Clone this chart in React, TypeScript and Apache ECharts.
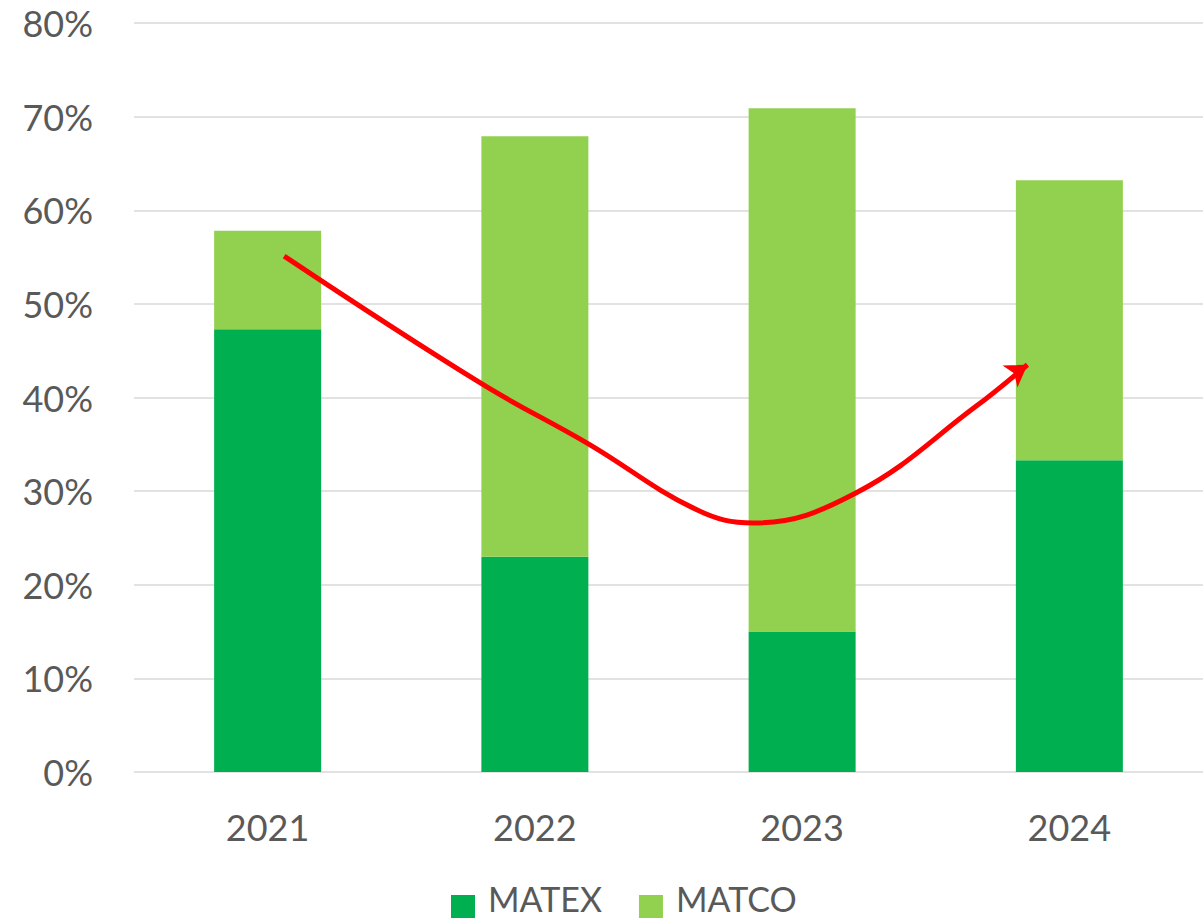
import React, { useEffect, useRef } from "react";
import * as echarts from "echarts";

const categories = ["2021", "2022", "2023", "2024"];
const matex = [47.3, 23.0, 15.0, 33.3];
const matco = [10.5, 44.9, 55.9, 29.9];
const yTicks = { min: 0, max: 80, interval: 10 };
// trend arrow path, in (category position, percent) coordinates
const trendX = [0.062, 0.799, 1.197, 1.606, 1.818, 2.201, 2.648, 2.843];
const trendY = [55.1, 41.5, 35.1, 28.0, 26.6, 29.8, 39.0, 43.5];

const FONT = "Lato";
const TEXT = "#595959";

export default function App() {
  const ref = useRef<HTMLDivElement>(null);
  useEffect(() => {
    if (!ref.current) return;
    const chart = echarts.init(ref.current, undefined, { renderer: "svg" });
    const trend = trendX.map((x, i) => {
      const last = i === trendX.length - 1;
      return last
        ? { value: [x, trendY[i]], symbol: "arrow", symbolSize: [20, 21], symbolRotate: -56 }
        : { value: [x, trendY[i]], symbol: "none" };
    });
    const legendIcon = "path://M0,0L0.1,0L0,0.1ZM0,17H24V40H0Z";
    chart.setOption({
      animation: false,
      textStyle: { fontFamily: FONT },
      grid: { left: 134, width: 1075, top: 23, bottom: 147 },
      legend: {
        data: [
          { name: "MATEX", icon: legendIcon },
          { name: "MATCO", icon: legendIcon },
        ],
        left: 446,
        top: 873,
        itemWidth: 24,
        itemHeight: 40,
        itemGap: 37,
        textStyle: { fontSize: 34, lineHeight: 34, color: TEXT, fontFamily: FONT, padding: [0, 0, 0, 8] },
      },
      xAxis: [
        {
          type: "category",
          data: categories,
          axisLine: { show: false },
          axisTick: { show: false },
          axisLabel: { fontSize: 36, color: TEXT, fontFamily: FONT, margin: 37 },
        },
        { type: "value", min: -0.5, max: 3.5, show: false },
      ],
      yAxis: {
        type: "value",
        min: yTicks.min,
        max: yTicks.max,
        interval: yTicks.interval,
        axisLine: { show: false },
        axisTick: { show: false },
        axisLabel: { fontSize: 36, color: TEXT, fontFamily: FONT, margin: 41, formatter: "{value}%" },
        splitLine: { lineStyle: { color: "#D9D9D9", width: 1.5 } },
      },
      series: [
        {
          name: "MATEX",
          type: "bar",
          stack: "total",
          data: matex,
          barWidth: 107,
          itemStyle: { color: "#00B050" },
        },
        {
          name: "MATCO",
          type: "bar",
          stack: "total",
          data: matco,
          barWidth: 107,
          itemStyle: { color: "#92D050" },
        },
        {
          name: "trend",
          type: "line",
          xAxisIndex: 1,
          data: trend,
          smooth: 0.4,
          lineStyle: { color: "#FF0000", width: 5 },
          itemStyle: { color: "#FF0000" },
          z: 5,
          silent: true,
        },
      ],
    });
    return () => chart.dispose();
  }, []);
  return (
    <div
      ref={ref}
      style={{ position: "fixed", left: 0, top: 0, width: 1203, height: 919, background: "#fff" }}
    />
  );
}
